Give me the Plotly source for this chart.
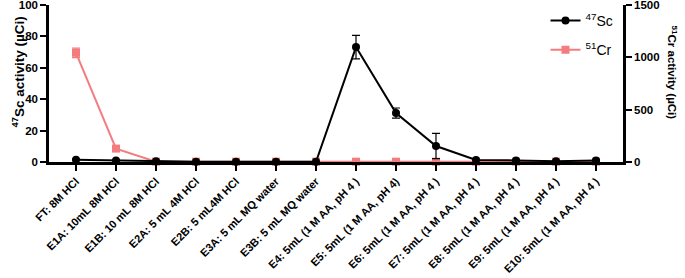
import plotly.graph_objects as go

categories = ["FT: 8M HCl", "E1A: 10mL 8M HCl", "E1B: 10 mL 8M HCl", "E2A: 5 mL 4M HCl",
              "E2B: 5 mL4M HCl", "E3A: 5 mL MQ water", "E3B: 5 mL MQ water",
              "E4: 5mL (1 M AA, pH 4 )", "E5: 5mL (1 M AA, pH 4)", "E6: 5mL (1 M AA, pH 4 )",
              "E7: 5mL (1 M AA, pH 4 )", "E8: 5mL (1 M AA, pH 4 )", "E9: 5mL (1 M AA, pH 4 )",
              "E10: 5mL (1 M AA, pH 4 )"]
sc_values = [1.5, 1.0, 0.4, 0.1, 0.1, 0.1, 0.1, 73.2, 31.2, 10.2, 1.3, 1.0, 0.5, 1.0]
sc_errors = [0.3, 0.3, 0.1, 0.0, 0.0, 0.0, 0.0, 7.5, 3.2, 8.0, 0.3, 0.3, 0.2, 0.3]
cr_values = [1043, 128, 3, 3, 3, 3, 3, 3, 3, 3, 3, 3, 3, 3]
cr_errors = [45, 15, 0, 0, 0, 0, 0, 0, 0, 0, 0, 0, 0, 0]

CR_COLOR = "#F47C7E"
FONT = "Liberation Sans"

fig = go.Figure()
fig.add_trace(go.Scatter(
    x=categories, y=cr_values, name="<sup>51</sup>Cr", yaxis="y", legendgroup="cr",
    legendrank=2,
    mode="lines+markers", line=dict(color=CR_COLOR, width=2),
    marker=dict(symbol="square", size=8, color=CR_COLOR),
    error_y=dict(type="data", array=cr_errors, color=CR_COLOR, thickness=1.2, width=4),
    cliponaxis=False,
))
fig.add_trace(go.Scatter(
    x=categories, y=sc_values, name="<sup>47</sup>Sc", yaxis="y2", legendgroup="sc",
    legendrank=1,
    mode="lines+markers", line=dict(color="black", width=2),
    marker=dict(symbol="circle", size=8, color="black"),
    error_y=dict(type="data", array=sc_errors, color="black", thickness=1.2, width=4),
    cliponaxis=False,
))

tick_common = dict(showline=True, linecolor="black", linewidth=2.5, ticks="outside",
                   ticklen=6, tickwidth=2, tickcolor="black",
                   showgrid=False, zeroline=False, automargin=False,
                   ticklabeloverflow="allow")
y_tickfont = dict(size=11.5, family=FONT, weight="bold")
x_tickfont = dict(size=11, family=FONT, weight="bold")

fig.update_layout(
    width=685, height=278,
    margin=dict(l=49, r=62, t=5, b=116),
    paper_bgcolor="white", plot_bgcolor="white",
    font=dict(family=FONT, color="black"),
    showlegend=True,
    legend=dict(x=0.865, y=1.0, xanchor="left", yanchor="top", traceorder="grouped",
                font=dict(size=14, family=FONT), bgcolor="rgba(0,0,0,0)",
                tracegroupgap=8),
    xaxis=dict(type="category", range=[-0.675, 13.675], tickangle=-45,
               tickfont=x_tickfont, **tick_common),
    yaxis=dict(side="right", range=[0, 1500], tickvals=[0, 500, 1000, 1500],
               tickfont=y_tickfont, **tick_common),
    yaxis2=dict(side="left", overlaying="y", range=[0, 100],
                tickvals=[0, 20, 40, 60, 80, 100], tickfont=y_tickfont, **tick_common),
    annotations=[
        dict(text="<sup>47</sup>Sc activity (µCi)", xref="paper", yref="paper",
             x=-0.054, y=0.57, xanchor="center", yanchor="middle", textangle=-90,
             showarrow=False, font=dict(size=13.5, family=FONT, weight="bold")),
        dict(text="<sup>51</sup>Cr activity (µCi)", xref="paper", yref="paper",
             x=1.087, y=0.57, xanchor="center", yanchor="middle", textangle=90,
             showarrow=False, font=dict(size=11.5, family=FONT, weight="bold")),
    ],
)

fig.write_html("out.html", config={"displayModeBar": False},
               post_script="document.body.style.margin='0';document.body.style.overflow='hidden';")
